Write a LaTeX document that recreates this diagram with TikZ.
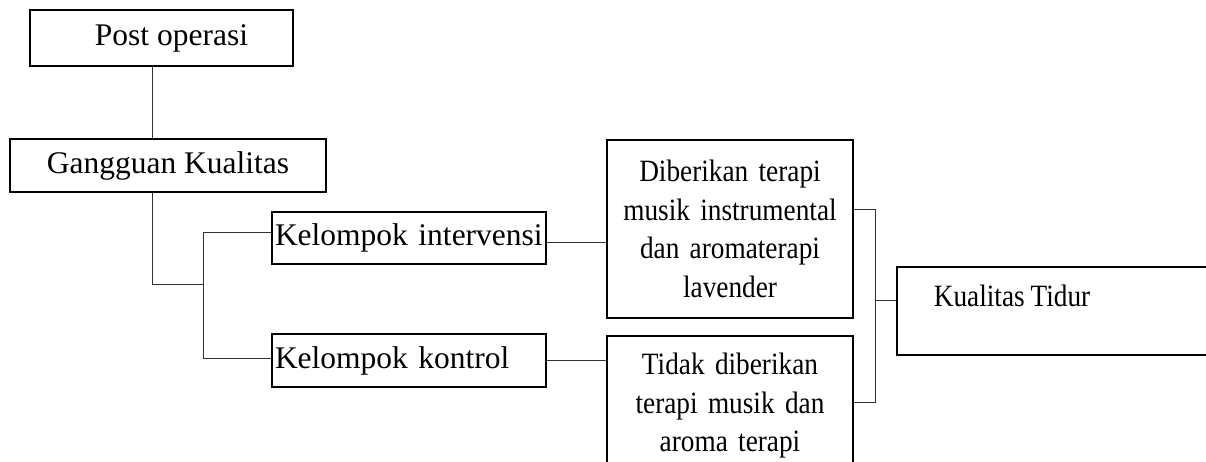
\documentclass[tikz,border=0pt]{standalone}
\usepackage{fontspec}
\setmainfont{Liberation Serif}
\newfontfamily\narrowserif[FakeStretch=0.88,WordSpace=0.85]{Liberation Serif}
\begin{document}
\begin{tikzpicture}[x=1pt,y=-1pt,
  box/.style={draw=black, line width=1.5pt, rectangle, inner sep=0pt, font=\fontsize{31.5}{38}\selectfont},
  rbox/.style={box, font=\narrowserif\fontsize{31}{38.5}\selectfont},
  conn/.style={draw=black!80, line width=0.9pt}]
\useasboundingbox (0,0) rectangle (1206,461);
\clip (0,0) rectangle (1206,461);
% boxes
\node[box, minimum width=263, minimum height=56] (post) at (161.5,38) {\hspace*{20pt}Post operasi};
\node[box, minimum width=316, minimum height=53] (gangg) at (168,165.5) {Gangguan Kualitas};
\node[box, minimum width=274, minimum height=52, inner xsep=3pt, text width=268, align=left] (interv) at (409,238) {\raisebox{-3pt}{Kelompok intervensi}};
\node[box, minimum width=274, minimum height=53, inner xsep=3pt, text width=268, align=left] (kontrol) at (409,360.5) {\raisebox{-4pt}{Kelompok kontrol}};
\node[rbox, minimum width=246, minimum height=178, text width=240, align=center] (dib) at (730,229) {Diberikan terapi\\musik instrumental\\dan aromaterapi\\lavender};
\node[rbox, minimum width=246, minimum height=140, text width=240, align=center] (tidak) at (730,406) {Tidak diberikan\\terapi musik dan\\aroma terapi};
\node[box, minimum width=360, minimum height=88, anchor=north west] (kual) at (896,266) {};
\node[font=\narrowserif\fontsize{31}{38.5}\selectfont, inner sep=0pt] (kualtext) at (1012,296) {Kualitas Tidur};
% junction coordinates
\coordinate (j1) at (152,0);
\coordinate (jb) at (203,284);
\coordinate (jt) at (203,232);
\coordinate (jk) at (203,358);
\coordinate (ji) at (0,242);
\coordinate (jr) at (875,209);
\coordinate (jrb) at (875,402);
\coordinate (jm) at (875,300);
% connectors
\draw[conn] (post.south -| j1) -- (gangg.north -| j1);
\draw[conn] (gangg.south -| j1) |- (jb);
\draw[conn] (interv.west |- jt) -- (jt) -- (jk) -- (kontrol.west |- jk);
\draw[conn] (interv.east |- ji) -- (dib.west |- ji);
\draw[conn] (kontrol.east) -- (kontrol.east -| tidak.west);
\draw[conn] (dib.east |- jr) -- (jr) -- (jrb) -- (tidak.east |- jrb);
\draw[conn] (jm) -- (kual.west |- jm);
\end{tikzpicture}
\end{document}
